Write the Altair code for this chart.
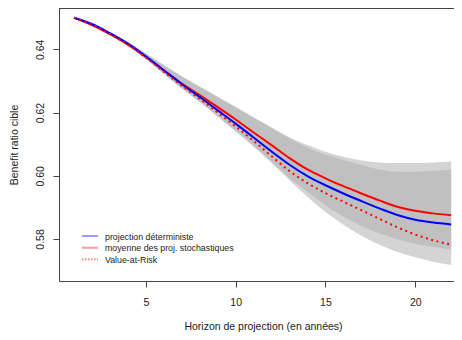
import altair as alt
import pandas as pd

years = list(range(1, 23))
deterministe = [0.6500, 0.6480, 0.6451, 0.6418, 0.6378, 0.6334, 0.6290, 0.6249, 0.6207, 0.6165, 0.6121,
                0.6077, 0.6035, 0.5999, 0.5970, 0.5944, 0.5920, 0.5897, 0.5876, 0.5861, 0.5852, 0.5846]
moyenne = [0.6500, 0.6477, 0.6448, 0.6415, 0.6376, 0.6333, 0.6292, 0.6255, 0.6217, 0.6178, 0.6137,
           0.6097, 0.6056, 0.6020, 0.5992, 0.5967, 0.5944, 0.5922, 0.5902, 0.5889, 0.5881, 0.5875]
value_at_risk = [0.6500, 0.6479, 0.6449, 0.6415, 0.6374, 0.6329, 0.6285, 0.6243, 0.6200, 0.6156, 0.6110,
                 0.6062, 0.6015, 0.5977, 0.5945, 0.5918, 0.5891, 0.5864, 0.5837, 0.5814, 0.5796, 0.5782]
# envelope of the stochastic projections (all paths)
stoch_max = [0.6500, 0.6482, 0.6454, 0.6423, 0.6387, 0.6350, 0.6315, 0.6282, 0.6250, 0.6218, 0.6185,
             0.6153, 0.6122, 0.6097, 0.6076, 0.6060, 0.6048, 0.6042, 0.6040, 0.6040, 0.6042, 0.6045]
stoch_min = [0.6500, 0.6478, 0.6447, 0.6412, 0.6369, 0.6322, 0.6276, 0.6233, 0.6187, 0.6140, 0.6092,
             0.6040, 0.5986, 0.5933, 0.5885, 0.5845, 0.5810, 0.5782, 0.5760, 0.5742, 0.5728, 0.5718]
# dense core of the stochastic projections
dense_max = [0.6500, 0.6482, 0.6453, 0.6422, 0.6386, 0.6349, 0.6314, 0.6281, 0.6249, 0.6216, 0.6183,
             0.6151, 0.6118, 0.6089, 0.6067, 0.6050, 0.6034, 0.6020, 0.6013, 0.6013, 0.6016, 0.6020]
dense_min = [0.6500, 0.6478, 0.6447, 0.6412, 0.6369, 0.6322, 0.6277, 0.6234, 0.6189, 0.6143, 0.6096,
             0.6045, 0.5993, 0.5949, 0.5907, 0.5871, 0.5841, 0.5817, 0.5799, 0.5785, 0.5775, 0.5767]

legend_labels = ["projection déterministe", "moyenne des proj. stochastiques", "Value-at-Risk"]
x_ticks = [5, 10, 15, 20]
y_ticks = [0.58, 0.60, 0.62, 0.64]

df = pd.DataFrame({
    "annee": years, "det": deterministe, "moy": moyenne, "var": value_at_risk,
    "smax": stoch_max, "smin": stoch_min, "dmax": dense_max, "dmin": dense_min,
})

W, H = 395, 273
FONT = "Liberation Sans"
AX = "#444444"
INTERP = "monotone"

xsc = alt.Scale(domain=[0.164, 22.157], nice=False, zero=False)
ysc = alt.Scale(domain=[0.56671, 0.65307], nice=False, zero=False)

x_axis = alt.Axis(values=x_ticks, format="d", title="Horizon de projection (en années)",
                  labelBaseline="alphabetic", labelPadding=18, tickSize=6,
                  titleX=204, titleY=48.5, titleBaseline="alphabetic", titleAlign="center",
                  labelFlush=False)
y_axis = alt.Axis(values=y_ticks, format=".2f", title="Benefit ratio cible",
                  labelAngle=270, labelAlign="center", labelBaseline="alphabetic", labelPadding=9.5,
                  tickSize=6, titleAngle=270, titleX=-44.5, titleY=136.5,
                  titleAlign="center", titleBaseline="middle", labelFlush=False)

def X():
    return alt.X("annee:Q", scale=xsc, axis=x_axis)

def Y(field):
    return alt.Y(f"{field}:Q", scale=ysc, axis=y_axis)

base = alt.Chart(df)

outer = base.mark_area(color="#d4d4d4", opacity=1, interpolate=INTERP).encode(x=X(), y=Y("smax"), y2="smin:Q")
inner = base.mark_area(color="#c0c0c0", opacity=1, interpolate=INTERP).encode(x=X(), y=Y("dmax"), y2="dmin:Q")
red = base.mark_line(color="#ff0000", strokeWidth=2, interpolate=INTERP).encode(x=X(), y=Y("moy"))
blue = base.mark_line(color="#0000ff", strokeWidth=2, interpolate=INTERP).encode(x=X(), y=Y("det"))
var_line = base.mark_line(color="#ff0000", strokeWidth=2, strokeDash=[2, 3.5],
                          interpolate=INTERP).encode(x=X(), y=Y("var"))

top_border = alt.Chart(pd.DataFrame({"a": [0]})).mark_rule(color=AX, strokeWidth=1).encode(
    x=alt.value(0), x2=alt.value(W), y=alt.value(0.5))

leg_colors = ["#9a9aff", "#ff9a9a", "#ff8a8a"]
leg_dash = [[1, 0], [1, 0], [1.5, 1.5]]
leg_layers = []
for i, lab in enumerate(legend_labels):
    yy = 228 + 11.65 * i
    d = pd.DataFrame({"label": [lab]})
    leg_layers.append(alt.Chart(d).mark_rule(color=leg_colors[i], strokeWidth=2, strokeDash=leg_dash[i]).encode(
        x=alt.value(23), x2=alt.value(39), y=alt.value(yy)))
    leg_layers.append(alt.Chart(d).mark_text(align="left", baseline="middle", font=FONT, fontSize=8.8,
                                             color="#222222").encode(
        x=alt.value(46), y=alt.value(yy + 0.5), text="label:N"))

chart = alt.layer(outer, inner, red, blue, var_line, top_border, *leg_layers).properties(
    width=W, height=H,
    padding={"left": 51, "top": 0, "right": 0, "bottom": 51},
    autosize=alt.AutoSizeParams(type="none"),
).configure_view(stroke=None).configure_axis(
    grid=False, domainColor=AX, tickColor=AX, labelColor="#222222", titleColor="#222222",
    labelFont=FONT, titleFont=FONT, labelFontSize=10.5, titleFontSize=10.5,
    titleFontWeight="normal", domainWidth=1, tickWidth=1,
)

chart.save("out.html", embed_options={"renderer": "svg", "actions": False})
